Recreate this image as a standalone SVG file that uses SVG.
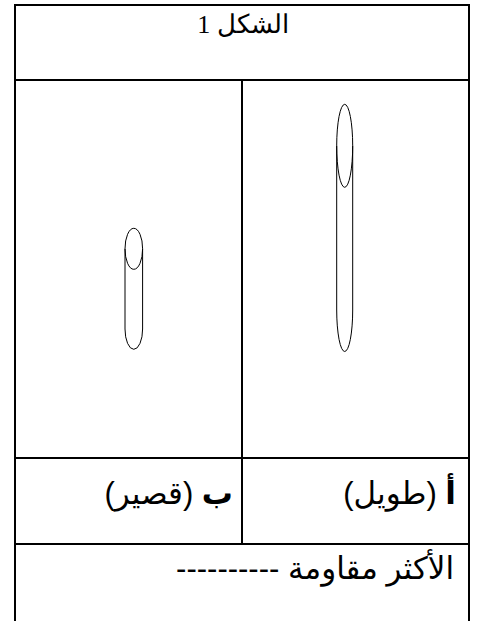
<svg xmlns="http://www.w3.org/2000/svg" width="478" height="621" viewBox="0 0 478 621">
<style>
.grid{stroke:#000;stroke-width:2;fill:none}
.tube{stroke:#000;stroke-width:1;fill:none}
.sans{font-family:"Liberation Sans","DejaVu Sans",Arial,sans-serif;font-size:31px;fill:#000}
.serif{font-family:"Liberation Serif","DejaVu Serif","Times New Roman",serif;font-size:26px;fill:#000}
</style>
<rect width="478" height="621" fill="#fff"/>
<g id="table">
<path class="grid" d="M15,621 V5 H469 V621 M15,80 H469 M242,80 V544 M15,458 H469 M15,544 H469"/>
</g>
<g id="title"><text class="serif" x="243" y="33" text-anchor="middle" direction="rtl">الشكل 1</text></g>
<g id="tube-long">
<ellipse class="tube" cx="344.7" cy="145.8" rx="8" ry="41.5"/>
<path class="tube" d="M336.7,145.8 V310 A8,41.5 0 0 0 352.7,310 V145.8"/>
</g>
<g id="tube-short">
<ellipse class="tube" cx="133.8" cy="248.8" rx="8.8" ry="20.5"/>
<path class="tube" d="M125,248.8 V329 A8.8,20.3 0 0 0 142.6,329 V248.8"/>
</g>
<g id="label-a"><text class="sans" x="456" y="504" direction="rtl" text-anchor="start"><tspan font-weight="bold">أ</tspan> (طويل)</text></g>
<g id="label-b"><text class="sans" x="233" y="504" direction="rtl" text-anchor="start"><tspan font-weight="bold">ب</tspan> (قصير)</text></g>
<g id="answer"><text class="sans" x="454" y="579" direction="rtl" text-anchor="start">الأكثر مقاومة ----------</text></g>
</svg>
